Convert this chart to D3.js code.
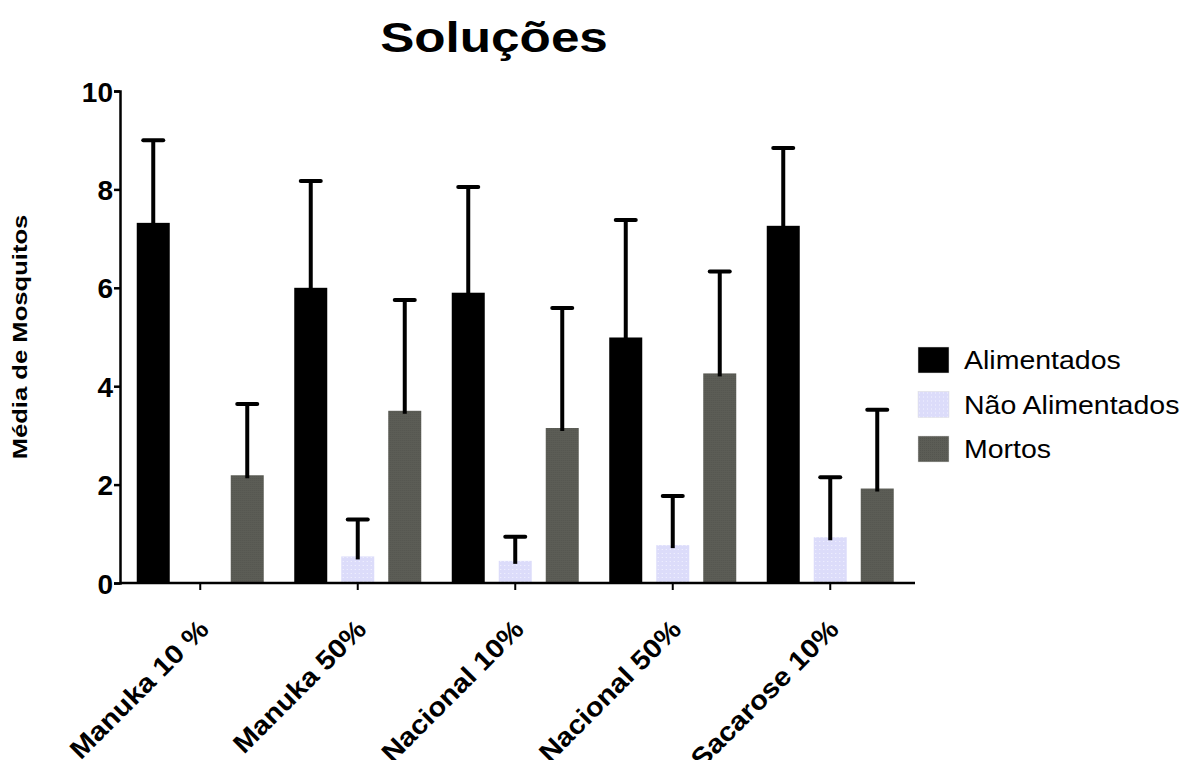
<!DOCTYPE html>
<html>
<head>
<meta charset="utf-8">
<script src="https://cdn.jsdelivr.net/npm/d3@7"></script>
<style>
  body { margin: 0; background: #fff; }
  svg text { font-family: "Liberation Sans", Arial, sans-serif; }
</style>
</head>
<body>
<script>
var categories = ["Manuka 10 %", "Manuka 50%", "Nacional 10%", "Nacional 50%", "Sacarose 10%"];
var series = ["Alimentados", "Não Alimentados", "Mortos"];
var alimentados = [7.32, 6.0, 5.9, 4.99, 7.26];
var alimentadosErr = [9.0, 8.17, 8.05, 7.38, 8.84];
var naoAlimentados = [0, 0.54, 0.45, 0.77, 0.93];
var naoAlimentadosErr = [0, 1.29, 0.94, 1.77, 2.15];
var mortos = [2.19, 3.5, 3.15, 4.26, 1.92];
var mortosErr = [3.64, 5.75, 5.59, 6.33, 3.52];
var yTicks = [0, 2, 4, 6, 8, 10];

var width = 1185, height = 760;

var svg = d3.select("body")
  .append("svg")
  .attr("width", width)
  .attr("height", height);

var defs = svg.append("defs");

// dotted lavender fill
var dots = defs.append("pattern")
  .attr("id", "dots")
  .attr("width", 4).attr("height", 4)
  .attr("patternUnits", "userSpaceOnUse");
dots.append("rect").attr("width", 4).attr("height", 4).attr("fill", "#dcdcfa");
dots.append("rect").attr("x", 1).attr("y", 1).attr("width", 1).attr("height", 1).attr("fill", "#f2f2ff");

// fine crosshatch gray
var hatch = defs.append("pattern")
  .attr("id", "hatch")
  .attr("width", 2).attr("height", 2)
  .attr("patternUnits", "userSpaceOnUse");
hatch.append("rect").attr("width", 2).attr("height", 2).attr("fill", "#5c5d56");
hatch.append("rect").attr("width", 1).attr("height", 1).attr("fill", "#54554f");

var fills = ["#000", "url(#dots)", "url(#hatch)"];

var x0 = d3.scaleBand()
  .domain(categories)
  .range([121.5, 909])
  .padding(0);

var x1 = d3.scalePoint()
  .domain(series)
  .range([-47, 47]);

var y = d3.scaleLinear()
  .domain([0, 10])
  .range([583, 91]);

var barW = 33;

var data = categories.map(function (c, i) {
  return {
    cat: c,
    vals: [
      { s: series[0], v: alimentados[i], e: alimentadosErr[i], f: fills[0] },
      { s: series[1], v: naoAlimentados[i], e: naoAlimentadosErr[i], f: fills[1] },
      { s: series[2], v: mortos[i], e: mortosErr[i], f: fills[2] }
    ]
  };
});

var groups = svg.selectAll("g.grp")
  .data(data)
  .enter()
  .append("g")
  .attr("class", "grp")
  .attr("transform", d => "translate(" + (x0(d.cat) + x0.bandwidth() / 2) + ",0)");

var items = groups.selectAll("g.bar")
  .data(d => d.vals.filter(v => v.v > 0))
  .enter()
  .append("g");

items.append("rect")
  .attr("x", d => x1(d.s) - barW / 2)
  .attr("width", barW)
  .attr("y", d => y(d.v))
  .attr("height", d => y(0) - y(d.v))
  .attr("fill", d => d.f);

// upper error bars only
items.append("line")
  .attr("x1", d => x1(d.s))
  .attr("x2", d => x1(d.s))
  .attr("y1", d => y(d.v) + 3)
  .attr("y2", d => y(d.e))
  .attr("stroke", "#000")
  .attr("stroke-width", 4);

items.append("line")
  .attr("x1", d => x1(d.s) - 10)
  .attr("x2", d => x1(d.s) + 10)
  .attr("y1", d => y(d.e))
  .attr("y2", d => y(d.e))
  .attr("stroke", "#000")
  .attr("stroke-width", 4)
  .attr("stroke-linecap", "round");

// y axis
var yAxis = svg.append("g")
  .attr("transform", "translate(120,0)")
  .call(d3.axisLeft(y).tickValues(yTicks).tickSize(6).tickPadding(1).tickFormat(d3.format("d")));
yAxis.select(".domain").attr("stroke-width", 2.5).attr("stroke", "#000");
yAxis.selectAll(".tick line").attr("stroke-width", 2.5).attr("stroke", "#000");
yAxis.selectAll(".tick text")
  .attr("font-size", 28)
  .attr("font-weight", "bold")
  .attr("fill", "#000")
  .attr("dy", "0.36em")
  .attr("font-family", "'Liberation Sans', Arial, sans-serif");

// x axis
var xAxis = svg.append("g")
  .attr("transform", "translate(0,583)")
  .call(d3.axisBottom(x0).tickSize(7).tickSizeOuter(0).tickFormat(""));
xAxis.select(".domain").attr("stroke-width", 2.5).attr("stroke", "#000").attr("d", "M120,0H915");
xAxis.selectAll(".tick line").attr("stroke-width", 2).attr("stroke", "#000");

svg.append("g")
  .selectAll("text")
  .data(categories)
  .enter()
  .append("text")
  .attr("transform", d => "translate(" + (x0(d) + x0.bandwidth() / 2 + 10) + ",631) rotate(-45) scale(1.1,1)")
  .attr("text-anchor", "end")
  .attr("font-size", 26.5)
  .attr("font-weight", "bold")
  .text(d => d);

// title
svg.append("text")
  .attr("transform", "translate(494,52) scale(1.22,1)")
  .attr("text-anchor", "middle")
  .attr("font-size", 42)
  .attr("font-weight", "bold")
  .text("Soluções");

// y label
svg.append("text")
  .attr("transform", "translate(27,337) rotate(-90) scale(1.25,1)")
  .attr("text-anchor", "middle")
  .attr("font-size", 20.5)
  .attr("font-weight", "bold")
  .text("Média de Mosquitos");

// legend
var legend = svg.append("g")
  .selectAll("g")
  .data(series)
  .enter()
  .append("g")
  .attr("transform", (d, i) => "translate(918," + (347 + i * 44.5) + ")");

legend.append("rect")
  .attr("width", 31)
  .attr("height", 26)
  .attr("fill", (d, i) => fills[i])
  .attr("stroke", "#ddd")
  .attr("stroke-width", 0.5);

legend.append("text")
  .attr("transform", "translate(46,13) scale(1.14,1)")
  .attr("dy", "0.36em")
  .attr("font-size", 25)
  .text(d => d);
</script>
</body>
</html>
